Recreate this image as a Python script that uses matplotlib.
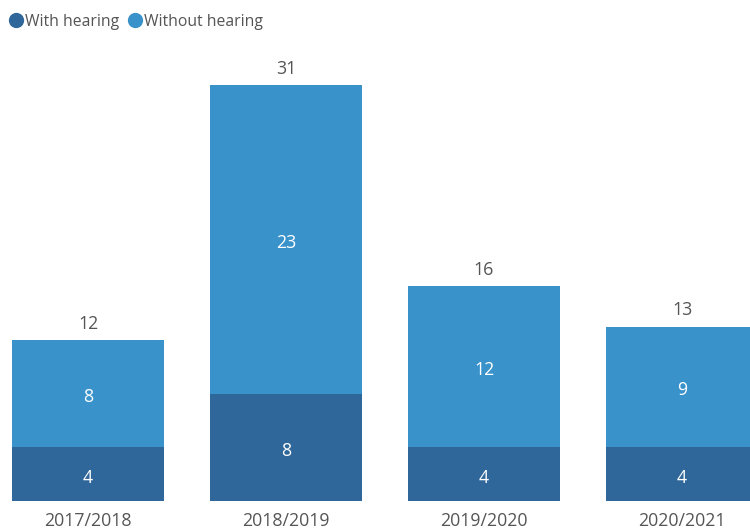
import matplotlib
matplotlib.use("Agg")
import matplotlib.pyplot as plt
from matplotlib.lines import Line2D

plt.rcParams['font.family'] = ['Open Sans', 'DejaVu Sans']

seasons = ["2017/2018", "2018/2019", "2019/2020", "2020/2021"]
with_hearing = [4, 8, 4, 4]
without_hearing = [8, 23, 12, 9]
totals = [a + b for a, b in zip(with_hearing, without_hearing)]

dark = "#30679a"
light = "#3a92cb"
text_col = "#555555"

W, H = 750, 531
fig = plt.figure(figsize=(W / 100, H / 100), dpi=100)

# plot area: baseline at 501 px, bars 152 px wide every 198 px, first centred at 88 px
base_px = 501
top_px = 40
ax = fig.add_axes([0, (H - base_px) / H, 1, (base_px - top_px) / H])
px_per_unit = (501 - 85) / 31
step = 198
xmin = -88 / step
ax.set_xlim(xmin, xmin + W / step)
ax.set_ylim(0, (base_px - top_px) / px_per_unit)

x = list(range(len(seasons)))
bw = 152 / step
ax.bar(x, with_hearing, width=bw, color=dark, linewidth=0)
ax.bar(x, without_hearing, width=bw, bottom=with_hearing, color=light, linewidth=0)

fs = 12.8
nudge = 1.5 / px_per_unit
for xi, a, b, t in zip(x, with_hearing, without_hearing, totals):
    ax.text(xi, a / 2 - nudge, str(a), ha="center", va="center_baseline", color="white", fontsize=fs)
    ax.text(xi, a + b / 2 - nudge, str(b), ha="center", va="center_baseline", color="white", fontsize=fs)
    ax.text(xi, t + 0.55, str(t), ha="center", va="bottom", color=text_col, fontsize=fs)

ax.set_xticks(x)
ax.set_xticklabels(seasons, fontsize=fs, color=text_col)
ax.tick_params(axis="x", length=0, pad=8)
ax.set_yticks([])
for s in ax.spines.values():
    s.set_visible(False)

handles = [
    Line2D([], [], marker="o", linestyle="", markersize=10, color=dark, label="With hearing"),
    Line2D([], [], marker="o", linestyle="", markersize=10, color=light, label="Without hearing"),
]
fig.legend(handles=handles, loc="upper left", bbox_to_anchor=(-0.002, 0.995), ncol=2,
           frameon=False, fontsize=11.3, handletextpad=0.2, columnspacing=0.6,
           borderaxespad=0.3, labelcolor=text_col, handlelength=0.8)

fig.savefig("out.png", dpi=100)
